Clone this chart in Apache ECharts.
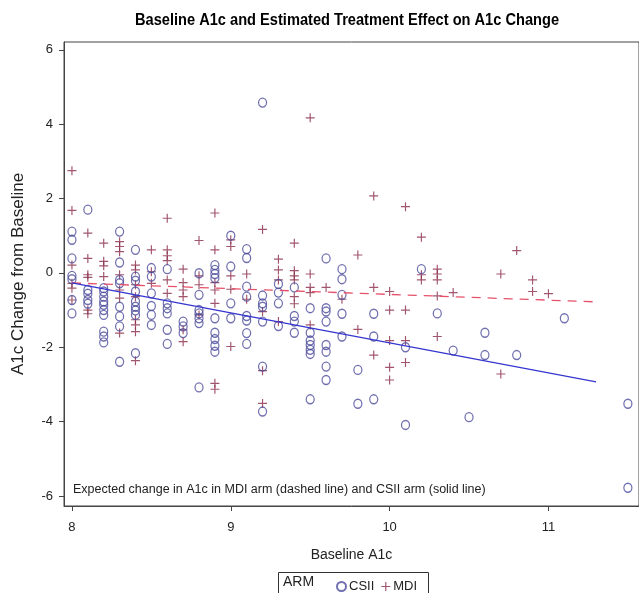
<!DOCTYPE html>
<html><head><meta charset="utf-8">
<script src="https://cdn.jsdelivr.net/npm/echarts@6/dist/echarts.min.js"></script>
<style>html,body{margin:0;padding:0;background:#fff}#c{width:639px;height:593px}</style>
</head><body><div id="c"></div>
<script>
// ---- data ----
const xTicks = [8, 9, 10, 11];
const yTicks = [-6, -4, -2, 0, 2, 4, 6];
const csiiX = [
 8.0,8.0,8.0,8.0,8.0,8.0,8.0,
 8.1,8.1,8.1,8.1,8.1,
 8.2,8.2,8.2,8.2,8.2,8.2,8.2,8.2,8.2,8.2,
 8.3,8.3,8.3,8.3,8.3,8.3,8.3,8.3,
 8.4,8.4,8.4,8.4,8.4,8.4,8.4,8.4,8.4,
 8.5,8.5,8.5,8.5,8.5,8.5,
 8.6,8.6,8.6,8.6,8.6,8.6,
 8.7,8.7,8.7,
 8.8,8.8,8.8,8.8,8.8,8.8,8.8,
 8.9,8.9,8.9,8.9,8.9,8.9,8.9,8.9,8.9,
 9.0,9.0,9.0,9.0,
 9.1,9.1,9.1,9.1,9.1,9.1,9.1,9.1,
 9.2,9.2,9.2,9.2,9.2,9.2,9.2,
 9.3,9.3,9.3,9.3,
 9.4,9.4,9.4,9.4,
 9.5,9.5,9.5,9.5,9.5,9.5,9.5,
 9.6,9.6,9.6,9.6,9.6,9.6,9.6,9.6,
 9.7,9.7,9.7,9.7,9.7,
 9.8,9.8,
 9.9,9.9,9.9,
 10.1,10.1,
 10.2,10.3,10.4,10.5,10.6,10.6,10.8,11.1,11.5,11.5
];
const csiiY = [
 1.11,0.89,0.39,-0.08,-0.17,-0.73,-1.09,
 1.70,-0.46,-0.56,-0.73,-0.83,
 -0.41,-0.50,-0.64,-0.77,-0.86,-1.00,-1.13,-1.58,-1.71,-1.87,
 1.11,0.28,-0.19,-0.28,-0.91,-1.17,-1.44,-2.39,
 0.62,-0.10,-0.21,-0.50,-0.77,-0.91,-1.01,-1.13,-2.16,
 0.13,-0.10,-0.55,-0.89,-1.13,-1.40,
 0.10,-0.82,-0.95,-1.09,-1.53,-1.91,
 -1.31,-1.44,-1.62,
 -0.01,-0.59,-1.00,-1.09,-1.22,-1.35,-3.08,
 0.21,0.08,-0.03,-0.14,-1.22,-1.61,-1.78,-1.96,-2.12,
 1.00,0.17,-0.82,-1.22,
 0.64,0.40,-0.37,-0.64,-1.16,-1.28,-1.62,-1.91,
 4.58,-0.61,-0.82,-0.91,-1.31,-2.52,-3.73,
 -0.30,-0.53,-0.82,-1.43,
 -0.39,-1.16,-1.31,-1.61,
 -0.95,-1.61,-1.82,-1.94,-2.07,-2.18,-3.40,
 0.39,-0.95,-1.04,-1.31,-1.94,-2.12,-2.52,-2.88,
 0.10,-0.17,-0.59,-1.10,-1.71,
 -2.61,-3.52,
 -1.10,-1.71,-3.40,
 -2.00,-4.09,
 0.10,-1.09,-2.09,-3.88,-1.61,-2.21,-2.21,-1.22,-3.52,-5.78
];
const mdiX = [
 8.0,8.0,8.0,8.0,8.0,8.0,
 8.1,8.1,8.1,8.1,8.1,8.1,
 8.2,8.2,8.2,8.2,
 8.3,8.3,8.3,8.3,8.3,8.3,8.3,
 8.4,8.4,8.4,8.4,8.4,8.4,8.4,8.4,
 8.5,8.5,8.5,
 8.6,8.6,8.6,8.6,8.6,8.6,
 8.7,8.7,8.7,8.7,8.7,8.7,
 8.8,8.8,8.8,8.8,
 8.9,8.9,8.9,8.9,8.9,8.9,8.9,
 9.0,9.0,9.0,9.0,9.0,
 9.1,9.1,
 9.2,9.2,9.2,9.2,
 9.3,9.3,9.3,9.3,
 9.4,9.4,9.4,9.4,9.4,9.4,
 9.5,9.5,9.5,9.5,9.5,
 9.6,9.7,
 9.8,9.8,
 9.9,9.9,9.9,
 10.0,10.0,10.0,10.0,10.0,
 10.1,10.1,10.1,10.1,
 10.2,10.2,10.2,
 10.3,10.3,10.3,10.3,10.3,
 10.4,10.7,10.7,10.8,10.9,10.9,11.0
];
const mdiY = [
 2.75,1.68,0.21,-0.28,-0.41,-0.73,
 1.07,0.39,-0.05,-0.12,-1.00,-1.10,
 0.80,0.31,0.19,-0.10,
 0.84,0.71,0.57,-0.05,-0.46,-0.68,-1.62,
 0.21,0.08,-0.32,-0.64,-1.26,-1.40,-1.58,-2.36,
 0.62,0.03,-0.28,
 1.47,0.62,0.46,0.33,-0.19,-0.55,
 0.10,-0.26,-0.46,-0.64,-1.53,-1.85,
 0.87,-0.08,-0.32,-1.13,
 1.61,0.62,-0.26,-0.46,-0.82,-2.97,-3.13,
 0.89,0.71,-0.08,-0.44,-1.98,
 -0.03,-0.71,
 1.17,-1.04,-2.63,-3.51,
 0.37,0.08,-0.19,-1.31,
 0.80,0.06,-0.08,-0.19,-0.64,-0.83,
 4.17,-0.03,-0.39,-0.53,-1.40,
 -0.39,-0.71,
 0.48,-1.52,
 2.07,-0.39,-2.21,
 -0.50,-1.00,-1.82,-2.54,-2.88,
 1.78,-1.00,-1.82,-2.41,
 0.96,-0.05,-0.19,
 0.10,-0.03,-0.19,-0.62,-1.71,
 -0.53,-0.03,-2.72,0.60,-0.19,-0.50,-0.56
];
const fitX = [8.0, 11.3];
const csiiFitY = [-0.27, -2.93];
const mdiFitY = [-0.27, -0.78];

// ---- chart ----
const zip = (xs, ys) => xs.map((x, i) => [x, ys[i]]);
const font = '"Liberation Sans", Arial, sans-serif';
const chart = echarts.init(document.getElementById('c'));
const plusPath = 'path://M4.35,0H5.65V4.35H10V5.65H5.65V10H4.35V5.65H0V4.35H4.35Z';
chart.setOption({
  animation: false,
  backgroundColor: '#fff',
  grid: {left: 64, top: 42, right: -7, bottom: 87, show: true, borderColor: '#444', borderWidth: 1},
  xAxis: {
    type: 'value', min: 7.95, max: 11.57,
    name: 'Baseline A1c', nameLocation: 'middle', nameGap: 42,
    nameTextStyle: {fontFamily: font, fontSize: 14, color: '#222'},
    axisLine: {onZero: false, lineStyle: {color: '#444'}},
    axisTick: {customValues: xTicks, length: 5, lineStyle: {color: '#444'}},
    axisLabel: {customValues: xTicks, fontFamily: font, fontSize: 13, color: '#222', margin: 15},
    splitLine: {show: false}
  },
  yAxis: {
    type: 'value', min: -6.27, max: 6.21,
    name: 'A1c Change from Baseline', nameLocation: 'middle', nameGap: 37, nameRotate: 90,
    nameTextStyle: {fontFamily: font, fontSize: 17, color: '#222'},
    axisLine: {onZero: false, lineStyle: {color: '#444'}},
    axisTick: {customValues: yTicks, length: 5, lineStyle: {color: '#444'}},
    axisLabel: {customValues: yTicks, fontFamily: font, fontSize: 13, color: '#222', margin: 11},
    splitLine: {show: false}
  },
  legend: {
    data: ['CSII', 'MDI'], left: 331, top: 575, itemWidth: 9, itemHeight: 9, itemGap: 7,
    textStyle: {fontFamily: font, fontSize: 13, color: '#222', padding: [0, 0, 0, -2]}
  },
  graphic: [
    {type: 'text', x: 347, y: 20, scaleX: 0.86,
     style: {text: 'Baseline A1c and Estimated Treatment Effect on A1c Change', fontFamily: font,
       fontWeight: 'bold', fontSize: 17, fill: '#000', textAlign: 'center', verticalAlign: 'middle'}},
    {type: 'rect', shape: {x: 278.5, y: 572.5, width: 150, height: 26},
     style: {fill: 'none', stroke: '#333', lineWidth: 1}},
    {type: 'text', x: 283, y: 582, style: {text: 'ARM', fontFamily: font, fontSize: 14, fill: '#222', verticalAlign: 'middle'}},
    {type: 'text', x: 73, y: 490, style: {text: 'Expected change in A1c in MDI arm (dashed line) and CSII arm (solid line)',
      fontFamily: font, fontSize: 12.5, fill: '#222', verticalAlign: 'middle'}}
  ],
  series: [
    {name: 'MDI', type: 'scatter', data: zip(mdiX, mdiY), symbol: plusPath, symbolSize: 9,
     itemStyle: {color: '#8a2c48'}},
    {name: 'CSII', type: 'scatter', data: zip(csiiX, csiiY), symbol: 'circle', symbolSize: [8, 9],
     itemStyle: {color: 'rgba(0,0,0,0)', borderColor: '#4c4c9c', borderWidth: 1.3}},
    {name: 'MDI fit', type: 'line', data: zip(fitX, mdiFitY), symbol: 'none',
     lineStyle: {color: '#e6506a', width: 1.3, type: [9, 7]}},
    {name: 'CSII fit', type: 'line', data: zip(fitX, csiiFitY), symbol: 'none',
     lineStyle: {color: '#3535d0', width: 1.3}}
  ]
});
</script></body></html>
